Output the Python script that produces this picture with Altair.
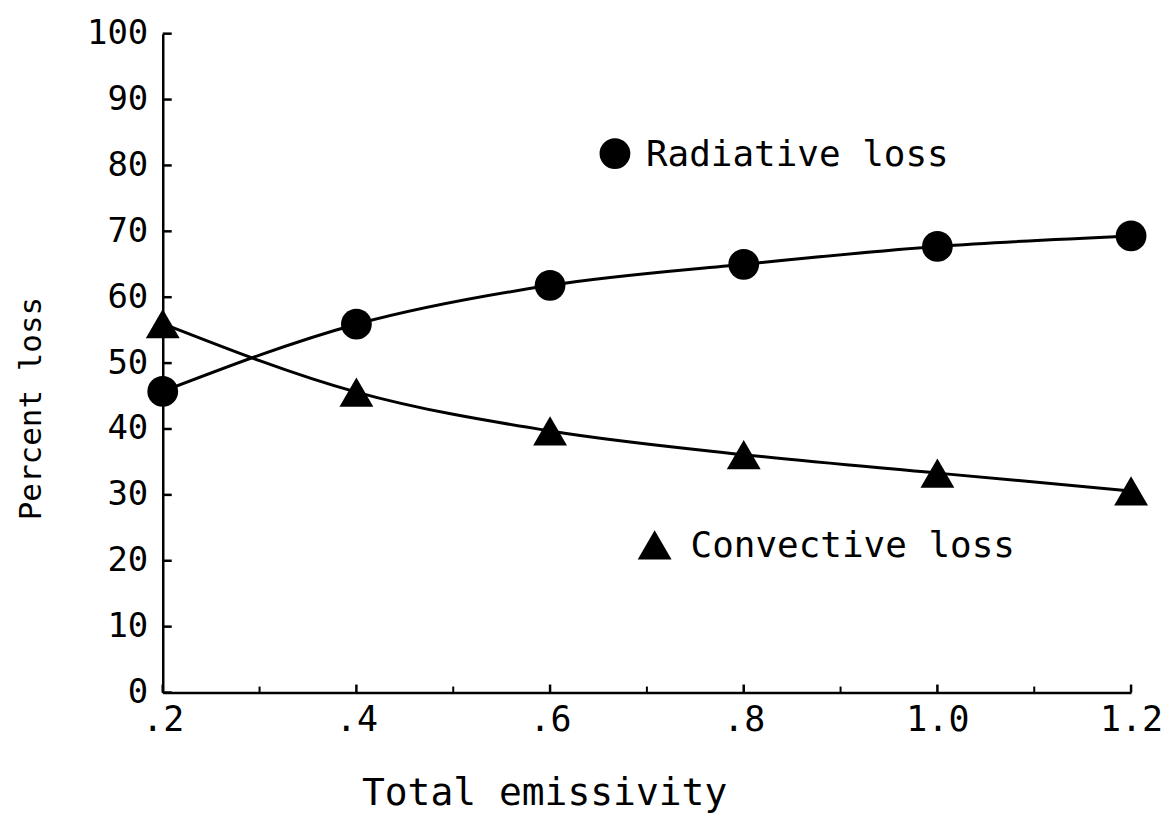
import altair as alt
import pandas as pd

emissivity = [0.2, 0.4, 0.6, 0.8, 1.0, 1.2]
radiative = [45.7, 55.9, 61.8, 65.0, 67.7, 69.3]
convective = [56.0, 45.6, 39.7, 36.1, 33.3, 30.6]

y_ticks = [0, 10, 20, 30, 40, 50, 60, 70, 80, 90, 100]
x_major = [0.2, 0.4, 0.6, 0.8, 1.0, 1.2]
x_minor = [0.3, 0.5, 0.7, 0.9, 1.1]

legend_names = ["Radiative loss", "Convective loss"]
legend_x = [0.667, 0.708]
legend_y = [81.8, 22.4]
legend_shapes = ["circle", "triangle-up"]

FONT = "DejaVu Sans Mono"

df = pd.DataFrame({"e": emissivity * 2,
                   "v": radiative + convective,
                   "s": ["Radiative loss"] * 6 + ["Convective loss"] * 6})
leg = pd.DataFrame({"name": legend_names, "x": legend_x, "y": legend_y, "shape": legend_shapes})

xs = alt.Scale(domain=[0.2, 1.2], nice=False, zero=False)
ys = alt.Scale(domain=[0, 100], nice=False)

xaxis = alt.Axis(values=x_major, format=".1f",
                 labelExpr="datum.value < 1 ? replace(format(datum.value, '.1f'), '0.', '.') : format(datum.value, '.1f')",
                 tickSize=0, labelPadding=10, labelFont=FONT, labelFontSize=35, labelColor="black",
                 labelFlush=False, labelOverlap=False,
                 domainColor="black", domainWidth=2.5, grid=False,
                 title="Total emissivity", titleFont=FONT, titleFontSize=38, titleFontWeight="normal",
                 titleColor="black", titleX=382, titleY=112, titleBaseline="alphabetic", titleAnchor="middle")
yaxis = alt.Axis(values=y_ticks, tickSize=0, labelPadding=15, labelFont=FONT, labelFontSize=34,
                 labelColor="black", labelFlush=False, labelOverlap=False,
                 domainColor="black", domainWidth=2.5, grid=False,
                 title="Percent loss", titleFont=FONT, titleFontSize=31, titleFontWeight="normal",
                 titleColor="black", titleX=-131, titleY=375, titleAngle=-90, titleBaseline="middle",
                 titleAnchor="middle")

base = alt.Chart(df)
lines = base.mark_line(color="black", strokeWidth=3, interpolate="monotone").encode(
    x=alt.X("e:Q", scale=xs, axis=xaxis),
    y=alt.Y("v:Q", scale=ys, axis=yaxis),
    detail="s:N")
pts = base.mark_point(filled=True, opacity=1, color="black").encode(
    x=alt.X("e:Q", scale=xs),
    y=alt.Y("v:Q", scale=ys),
    shape=alt.Shape("s:N", scale=alt.Scale(domain=legend_names, range=legend_shapes), legend=None),
    size=alt.Size("s:N", scale=alt.Scale(domain=legend_names, range=[950, 1150]), legend=None))

ytk = alt.Chart(pd.DataFrame({"t": y_ticks})).mark_rule(color="black", strokeWidth=2.5).encode(
    y=alt.Y("t:Q", scale=ys), x=alt.value(0), x2=alt.value(9))
xmaj = alt.Chart(pd.DataFrame({"t": x_major})).mark_rule(color="black", strokeWidth=2.5).encode(
    x=alt.X("t:Q", scale=xs), y=alt.value(660), y2=alt.value(652))
xmin = alt.Chart(pd.DataFrame({"t": x_minor})).mark_rule(color="black", strokeWidth=2).encode(
    x=alt.X("t:Q", scale=xs), y=alt.value(660), y2=alt.value(654))

lsym = alt.Chart(leg).mark_point(filled=True, opacity=1, color="black").encode(
    x=alt.X("x:Q", scale=xs), y=alt.Y("y:Q", scale=ys),
    shape=alt.Shape("name:N", scale=alt.Scale(domain=legend_names, range=legend_shapes), legend=None),
    size=alt.Size("name:N", scale=alt.Scale(domain=legend_names, range=[950, 1150]), legend=None))
ltxt_r = alt.Chart(leg).transform_filter(alt.datum.name == legend_names[0]).mark_text(
    align="left", baseline="middle", dx=31, dy=1, font=FONT, fontSize=36, color="black").encode(
    x=alt.X("x:Q", scale=xs), y=alt.Y("y:Q", scale=ys), text="name:N")
ltxt_c = alt.Chart(leg).transform_filter(alt.datum.name == legend_names[1]).mark_text(
    align="left", baseline="middle", dx=36, dy=1, font=FONT, fontSize=36, color="black").encode(
    x=alt.X("x:Q", scale=xs), y=alt.Y("y:Q", scale=ys), text="name:N")

chart = alt.layer(lines, pts, ytk, xmaj, xmin, lsym, ltxt_r, ltxt_c).properties(
    width=970, height=660,
    autosize=alt.AutoSizeParams(type="none"),
    padding={"left": 155, "top": 25, "right": 36, "bottom": 140},
    background="white",
).configure_view(stroke=None)

chart.save("out.html", embed_options={"renderer": "svg", "actions": False})
